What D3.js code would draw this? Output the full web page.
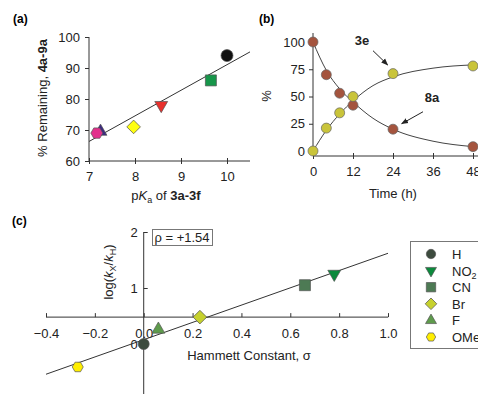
<!DOCTYPE html>
<html>
<head>
<meta charset="utf-8">
<script src="https://cdn.jsdelivr.net/npm/d3@7"></script>
<style>
  body { margin: 0; background: #fff; }
  svg { display: block; font-family: "Liberation Sans", Arial, sans-serif; }
</style>
</head>
<body>
<svg id="chart" width="478" height="394"></svg>
<script>
// ---- panel (a): % remaining vs pKa ----
var pkaNames = ["H", "CN", "NO2", "Br", "F", "OMe"];
var pkaValues = [10.0, 9.65, 8.57, 7.97, 7.25, 7.17];
var remainValues = [94, 86, 78, 71, 69.5, 69];
var pkaFit = [[7, 66.3], [10.5, 95.2]];
var pkaTicks = [7, 8, 9, 10];
var remainTicks = [60, 70, 80, 90, 100];

// ---- panel (b): time course ----
var times = [0, 4, 8, 12, 24, 48];
var series8a = [100, 70, 53, 42, 20, 4];
var series3e = [0, 21, 35, 50, 71, 78];
var fitTimes = [0, 4, 8, 12, 18, 24, 36, 48];
var fit8a = [100, 74, 57, 45, 30, 20, 9, 4];
var fit3e = [0, 19, 34, 46, 60, 68, 76, 79];
var timeTicks = [0, 12, 24, 36, 48];
var pctTicks = [0, 25, 50, 75, 100];

// ---- panel (c): Hammett plot ----
var subNames = ["H", "NO2", "CN", "Br", "F", "OMe"];
var sigmaValues = [0.0, 0.78, 0.66, 0.23, 0.06, -0.27];
var logkValues = [0.0, 1.25, 1.05, 0.48, 0.26, -0.41];
var hammettFit = [[-0.4, -0.54], [1.0, 1.62]];
var sigmaTicks = [-0.4, -0.2, 0.0, 0.2, 0.4, 0.6, 0.8, 1.0];
var logkTicks = [0, 1, 2];

var svg = d3.select("#chart");

// hexagon path
function hexPath(r) {
  var pts = d3.range(6).map(function(i) {
    var a = Math.PI / 3 * i;
    return [r * Math.cos(a), r * Math.sin(a)];
  });
  return "M" + pts.join("L") + "Z";
}
function symPath(kind, size) {
  if (kind == "circle") return d3.symbol(d3.symbolCircle, size * size * 0.785)();
  if (kind == "square") return d3.symbol(d3.symbolSquare, size * size)();
  if (kind == "diamond") return d3.symbol(d3.symbolSquare, size * size * 0.55)();
  if (kind == "triangle" || kind == "down") return d3.symbol(d3.symbolTriangle, size * size * 0.5)();
  if (kind == "hexagon") return hexPath(size / 2);
}
function symRot(kind) {
  if (kind == "diamond") return " rotate(45)";
  if (kind == "down") return " rotate(180)";
  return "";
}

var axisColor = "#333";

// ================= (a) =================
var xa = d3.scaleLinear().domain([7, 10.5]).range([89, 250]);
var ya = d3.scaleLinear().domain([60, 100]).range([161, 37]);

var styleA = {
  "H":   {kind: "circle",   fill: "#111111", size: 12},
  "CN":  {kind: "square",   fill: "#16964a", size: 11},
  "NO2": {kind: "down",     fill: "#e8302c", size: 12},
  "Br":  {kind: "diamond",  fill: "#ffff10", size: 13},
  "F":   {kind: "triangle", fill: "#3b2a80", size: 12},
  "OMe": {kind: "hexagon",  fill: "#e2308c", size: 12}
};

var gA = svg.append("g");
gA.append("g")
  .attr("transform", "translate(0,161)")
  .call(d3.axisBottom(xa).tickValues(pkaTicks).tickFormat(d3.format("d")).tickSize(4).tickPadding(7))
  .call(function(g) {
    g.select(".domain").attr("d", "M89,0H250").attr("stroke", axisColor);
    g.selectAll(".tick line").attr("y1", -3).attr("y2", 3).attr("stroke", axisColor);
    g.selectAll("text").attr("font-size", 13).attr("fill", "#222").attr("font-family", null);
  });
gA.append("g")
  .attr("transform", "translate(89,0)")
  .call(d3.axisLeft(ya).tickValues(remainTicks).tickSize(4).tickPadding(5))
  .call(function(g) {
    g.select(".domain").attr("d", "M0,161V37").attr("stroke", axisColor);
    g.selectAll(".tick line").attr("stroke", axisColor);
    g.selectAll("text").attr("font-size", 13).attr("fill", "#222").attr("font-family", null);
  });

gA.append("path")
  .attr("d", d3.line().x(function(d) { return xa(d[0]); }).y(function(d) { return ya(d[1]); })(pkaFit))
  .attr("stroke", "#333").attr("stroke-width", 1).attr("fill", "none");

gA.selectAll(".pt")
  .data(pkaNames)
  .enter().append("path")
  .attr("d", function(d) { return symPath(styleA[d].kind, styleA[d].size); })
  .attr("transform", function(d, i) {
    return "translate(" + xa(pkaValues[i]) + "," + ya(remainValues[i]) + ")" + symRot(styleA[d].kind);
  })
  .attr("fill", function(d) { return styleA[d].fill; })
  .attr("stroke", "#555").attr("stroke-width", 0.7);

gA.append("text").attr("x", 13).attr("y", 23).attr("font-size", 12).attr("font-weight", "bold").text("(a)");

var ylabA = gA.append("text")
  .attr("transform", "translate(47,98) rotate(-90)")
  .attr("text-anchor", "middle").attr("font-size", 13).attr("fill", "#222");
ylabA.append("tspan").text("% Remaining, ");
ylabA.append("tspan").attr("font-weight", "bold").text("4a-9a");

var xlabA = gA.append("text")
  .attr("x", 166).attr("y", 200)
  .attr("text-anchor", "middle").attr("font-size", 13).attr("fill", "#222");
xlabA.append("tspan").text("p");
xlabA.append("tspan").attr("font-style", "italic").text("K");
xlabA.append("tspan").attr("font-size", 9).attr("dy", 3).text("a");
xlabA.append("tspan").attr("dy", -3).text(" of ");
xlabA.append("tspan").attr("font-weight", "bold").text("3a-3f");

// ================= (b) =================
var xb = d3.scaleLinear().domain([0, 48]).range([313, 473]);
var yb = d3.scaleLinear().domain([0, 100]).range([151, 42]);
var col8a = "#a4543e";
var col3e = "#c9c43a";

var gB = svg.append("g");
gB.append("g")
  .attr("transform", "translate(0,156)")
  .call(d3.axisBottom(xb).tickValues(timeTicks).tickSize(4).tickPadding(7))
  .call(function(g) {
    g.select(".domain").attr("d", "M313,0H478").attr("stroke", axisColor);
    g.selectAll(".tick line").attr("y1", -3).attr("y2", 3).attr("stroke", axisColor);
    g.selectAll("text").attr("font-size", 13).attr("fill", "#222").attr("font-family", null);
  });
gB.append("g")
  .attr("transform", "translate(313,0)")
  .call(d3.axisLeft(yb).tickValues(pctTicks).tickSize(4).tickPadding(4))
  .call(function(g) {
    g.select(".domain").attr("d", "M0,156V33").attr("stroke", axisColor);
    g.selectAll(".tick line").attr("stroke", axisColor);
    g.selectAll("text").attr("font-size", 13).attr("fill", "#222").attr("font-family", null);
  });

var fitLine = d3.line()
  .x(function(d, i) { return xb(fitTimes[i]); })
  .y(function(d) { return yb(d); })
  .curve(d3.curveMonotoneX);
gB.append("path").attr("d", fitLine(fit8a)).attr("stroke", "#444").attr("fill", "none").attr("stroke-width", 1);
gB.append("path").attr("d", fitLine(fit3e)).attr("stroke", "#444").attr("fill", "none").attr("stroke-width", 1);

[[series8a, col8a], [series3e, col3e]].forEach(function(s) {
  gB.selectAll(null)
    .data(s[0])
    .enter().append("circle")
    .attr("cx", function(d, i) { return xb(times[i]); })
    .attr("cy", function(d) { return yb(d); })
    .attr("r", 5)
    .attr("fill", s[1])
    .attr("stroke", "#666").attr("stroke-width", 0.7);
});

// arrowhead
svg.append("defs").append("marker")
  .attr("id", "arr").attr("viewBox", "0 0 10 10").attr("refX", 9).attr("refY", 5)
  .attr("markerWidth", 7).attr("markerHeight", 7).attr("orient", "auto")
  .append("path").attr("d", "M0,1L10,5L0,9Z").attr("fill", "#222");

var annot = [
  {text: "3e", tx: 14.7, ty: 97, x1: 18, y1: 92, x2: 22.4, y2: 79},
  {text: "8a", tx: 35.7, ty: 45, x1: 33, y1: 36, x2: 26.6, y2: 25}
];
annot.forEach(function(a) {
  gB.append("text").attr("x", xb(a.tx)).attr("y", yb(a.ty)).attr("text-anchor", "middle")
    .attr("font-size", 13).attr("font-weight", "bold").attr("fill", "#222").text(a.text);
  gB.append("line")
    .attr("x1", xb(a.x1)).attr("y1", yb(a.y1)).attr("x2", xb(a.x2)).attr("y2", yb(a.y2))
    .attr("stroke", "#222").attr("stroke-width", 1).attr("marker-end", "url(#arr)");
});

gB.append("text").attr("x", 259).attr("y", 23).attr("font-size", 12).attr("font-weight", "bold").text("(b)");
gB.append("text").attr("transform", "translate(271,96) rotate(-90)")
  .attr("text-anchor", "middle").attr("font-size", 13).attr("fill", "#222").text("%");
gB.append("text").attr("x", 393).attr("y", 198).attr("text-anchor", "middle")
  .attr("font-size", 13).attr("fill", "#222").text("Time (h)");

// ================= (c) =================
var xc = d3.scaleLinear().domain([-0.4, 1.0]).range([46, 388]);
var yc = d3.scaleLinear().domain([-1, 2]).range([400, 232]);
var xAxisAt = 0.48;

var styleC = {
  "H":   {kind: "circle",   fill: "#3d4b3e", size: 11},
  "NO2": {kind: "down",     fill: "#0b8a3c", size: 12},
  "CN":  {kind: "square",   fill: "#4d7a54", size: 11},
  "Br":  {kind: "diamond",  fill: "#c6d12e", size: 13},
  "F":   {kind: "triangle", fill: "#5e9b4c", size: 12},
  "OMe": {kind: "hexagon",  fill: "#ffee00", size: 11}
};

var gC = svg.append("g");
gC.append("g")
  .attr("transform", "translate(0," + yc(xAxisAt) + ")")
  .call(d3.axisTop(xc).tickValues(sigmaTicks).tickFormat(d3.format(".1f")).tickSize(4))
  .call(function(g) {
    g.select(".domain").attr("d", "M46,0H388").attr("stroke", axisColor);
    g.selectAll(".tick line").attr("stroke", axisColor);
    g.selectAll("text").attr("y", 21).attr("dy", 0).attr("font-size", 13).attr("fill", "#222").attr("font-family", null);
  });
gC.append("g")
  .attr("transform", "translate(" + xc(0) + ",0)")
  .call(d3.axisRight(yc).tickValues(logkTicks).tickFormat(d3.format("d")).tickSize(4))
  .call(function(g) {
    g.select(".domain").attr("d", "M0,232V394").attr("stroke", axisColor);
    g.selectAll(".tick line").attr("stroke", axisColor);
    g.selectAll("text").attr("x", -6).attr("text-anchor", "end").attr("font-size", 13).attr("fill", "#222").attr("font-family", null);
  });

gC.append("path")
  .attr("d", d3.line().x(function(d) { return xc(d[0]); }).y(function(d) { return yc(d[1]); })(hammettFit))
  .attr("stroke", "#333").attr("stroke-width", 1).attr("fill", "none");

gC.selectAll(".pt")
  .data(subNames)
  .enter().append("path")
  .attr("d", function(d) { return symPath(styleC[d].kind, styleC[d].size); })
  .attr("transform", function(d, i) {
    return "translate(" + xc(sigmaValues[i]) + "," + yc(logkValues[i]) + ")" + symRot(styleC[d].kind);
  })
  .attr("fill", function(d) { return styleC[d].fill; })
  .attr("stroke", "#555").attr("stroke-width", 0.7);

gC.append("text").attr("x", 12).attr("y", 225).attr("font-size", 12).attr("font-weight", "bold").text("(c)");

// rho box
gC.append("rect").attr("x", 152.5).attr("y", 229.5).attr("width", 60).attr("height", 16)
  .attr("fill", "#fff").attr("stroke", "#777");
gC.append("text").attr("x", 182).attr("y", 242).attr("text-anchor", "middle")
  .attr("font-size", 13).attr("fill", "#222").text("ρ = +1.54");

var ylabC = gC.append("text")
  .attr("transform", "translate(113,272) rotate(-90)")
  .attr("text-anchor", "middle").attr("font-size", 13).attr("fill", "#222");
ylabC.append("tspan").text("log(");
ylabC.append("tspan").attr("font-style", "italic").text("k");
ylabC.append("tspan").attr("font-size", 9).attr("dy", 3).text("X");
ylabC.append("tspan").attr("dy", -3).text("/");
ylabC.append("tspan").attr("font-style", "italic").text("k");
ylabC.append("tspan").attr("font-size", 9).attr("dy", 3).text("H");
ylabC.append("tspan").attr("dy", -3).text(")");

gC.append("text").attr("x", 249).attr("y", 360).attr("text-anchor", "middle")
  .attr("font-size", 13).attr("fill", "#222").text("Hammett Constant, σ");

// legend
var leg = gC.append("g");
leg.append("rect").attr("x", 410.5).attr("y", 241.5).attr("width", 80).attr("height", 107)
  .attr("fill", "#fff").attr("stroke", "#777");
var legItems = leg.selectAll(".li").data(subNames).enter().append("g")
  .attr("transform", function(d, i) { return "translate(0," + (254 + i * 16.6) + ")"; });
legItems.append("path")
  .attr("d", function(d) { return symPath(styleC[d].kind, styleC[d].size * 0.85); })
  .attr("transform", function(d) { return "translate(431,0)" + symRot(styleC[d].kind); })
  .attr("fill", function(d) { return styleC[d].fill; })
  .attr("stroke", "#555").attr("stroke-width", 0.7);
legItems.append("text").attr("x", 452).attr("y", 5).attr("font-size", 13).attr("fill", "#222")
  .each(function(d) {
    var t = d3.select(this);
    if (d == "NO2") {
      t.append("tspan").text("NO");
      t.append("tspan").attr("font-size", 9).attr("dy", 3).text("2");
    } else {
      t.text(d);
    }
  });
</script>
</body>
</html>
